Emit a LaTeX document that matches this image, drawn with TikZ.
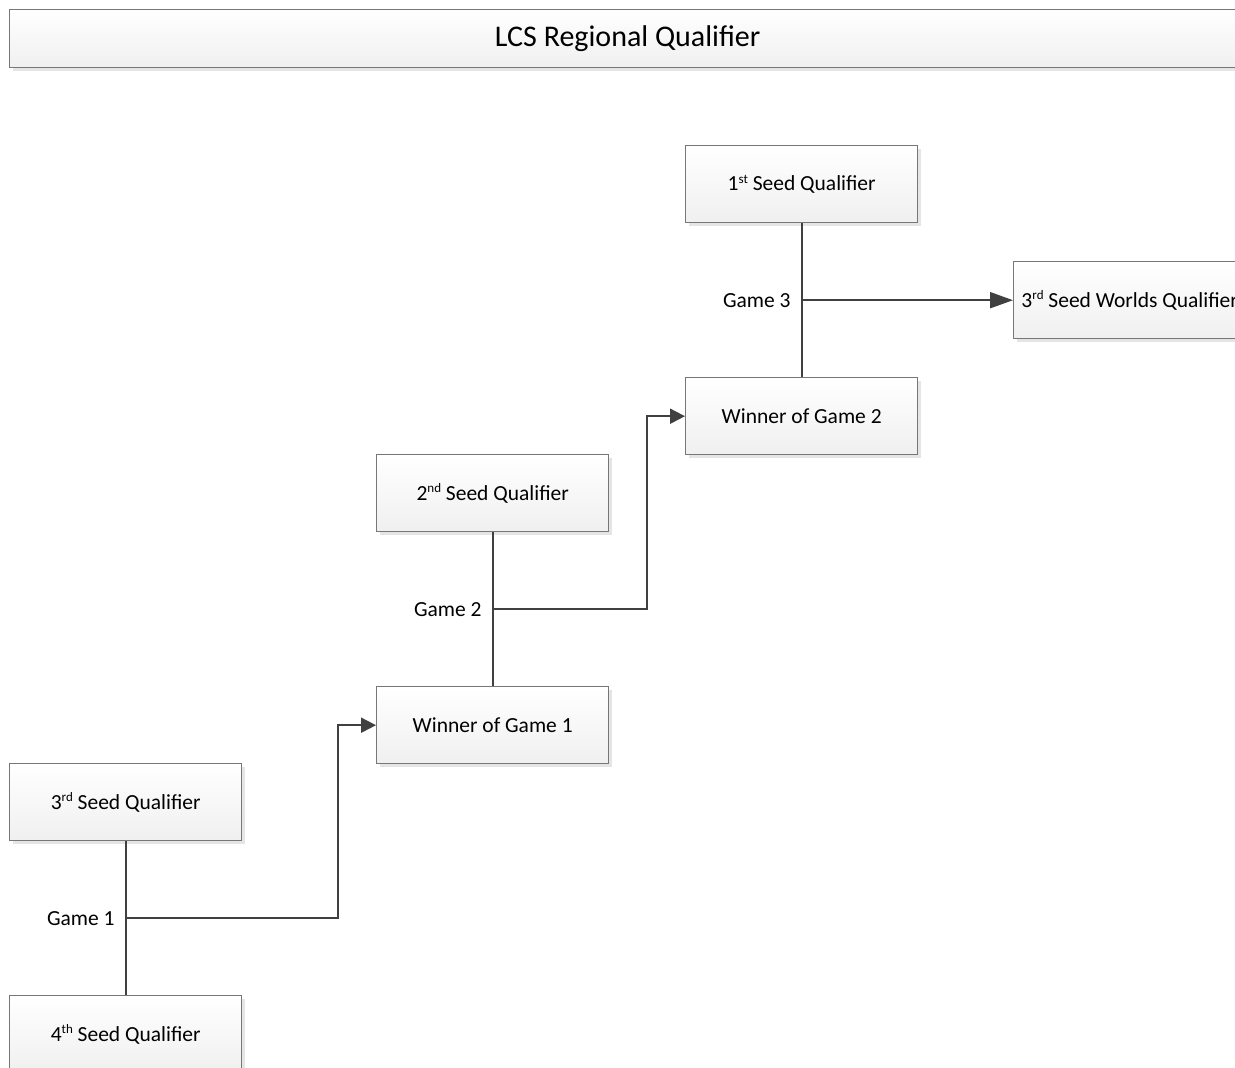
\documentclass[tikz,border=0pt]{standalone}
\usepackage{fontspec}
\setmainfont{Carlito}
\usetikzlibrary{arrows.meta,shadows}
\definecolor{boxline}{HTML}{777777}
\definecolor{conncol}{HTML}{404040}
\newcommand{\supx}[1]{\raisebox{7.5pt}{\fontsize{13}{13}\selectfont #1}}
\begin{document}
\begin{tikzpicture}[x=1pt,y=-1pt,
  box/.style={draw=boxline, line width=1.4pt, top color=white, bottom color=black!6,
    minimum width=232pt, minimum height=77pt, anchor=north west, inner sep=0pt,
    font=\fontsize{21.5}{24}\selectfont, text=black,
    drop shadow={shadow xshift=3pt, shadow yshift=-3pt, fill=black!10, opacity=1}},
  titlebox/.style={box, minimum width=1236pt, minimum height=58pt, font=\fontsize{30}{34}\selectfont},
  conn/.style={draw=conncol, line width=2pt},
  arr/.style={conn, -{Triangle[length=15pt,width=15pt]}},
  bigarr/.style={conn, -{Triangle[length=23pt,width=16pt]}},
  glabel/.style={anchor=east, inner sep=0pt, font=\fontsize{21.5}{24}\selectfont}]
\useasboundingbox (0,0) rectangle (1235,1068);
\fill[white] (0,0) rectangle (1235,1068);

\node[titlebox] (title) at (9,9) {LCS Regional Qualifier};

\node[box] (q1) at (685,145) {1\supx{st} Seed Qualifier};
\node[box] (w2) at (685,377) {Winner of Game 2};
\node[box] (wq) at (1013,261) {3\supx{rd} Seed Worlds Qualifier};
\node[box] (q2) at (376,454) {2\supx{nd} Seed Qualifier};
\node[box] (w1) at (376,686) {Winner of Game 1};
\node[box] (q3) at (9,763) {3\supx{rd} Seed Qualifier};
\node[box] (q4) at (9,995) {4\supx{th} Seed Qualifier};

\draw[conn] (q1.south) -- coordinate[pos=.5] (g3) (w2.north);
\draw[conn] (q2.south) -- coordinate[pos=.5] (g2) (w1.north);
\draw[conn] (q3.south) -- coordinate[pos=.5] (g1) (q4.north);

\node[glabel] (l3) at ([xshift=-11pt]g3) {Game 3};
\node[glabel] (l2) at ([xshift=-11pt]g2) {Game 2};
\node[glabel] (l1) at ([xshift=-11pt]g1) {Game 1};

\coordinate (c2) at (g2 -| 647,0);
\coordinate (c1) at (g1 -| 338,0);

\draw[bigarr] (g3) -- (g3 -| wq.west);
\draw[arr] (g2) -- (c2) |- (w2.west);
\draw[arr] (g1) -- (c1) |- (w1.west);
\end{tikzpicture}
\end{document}
